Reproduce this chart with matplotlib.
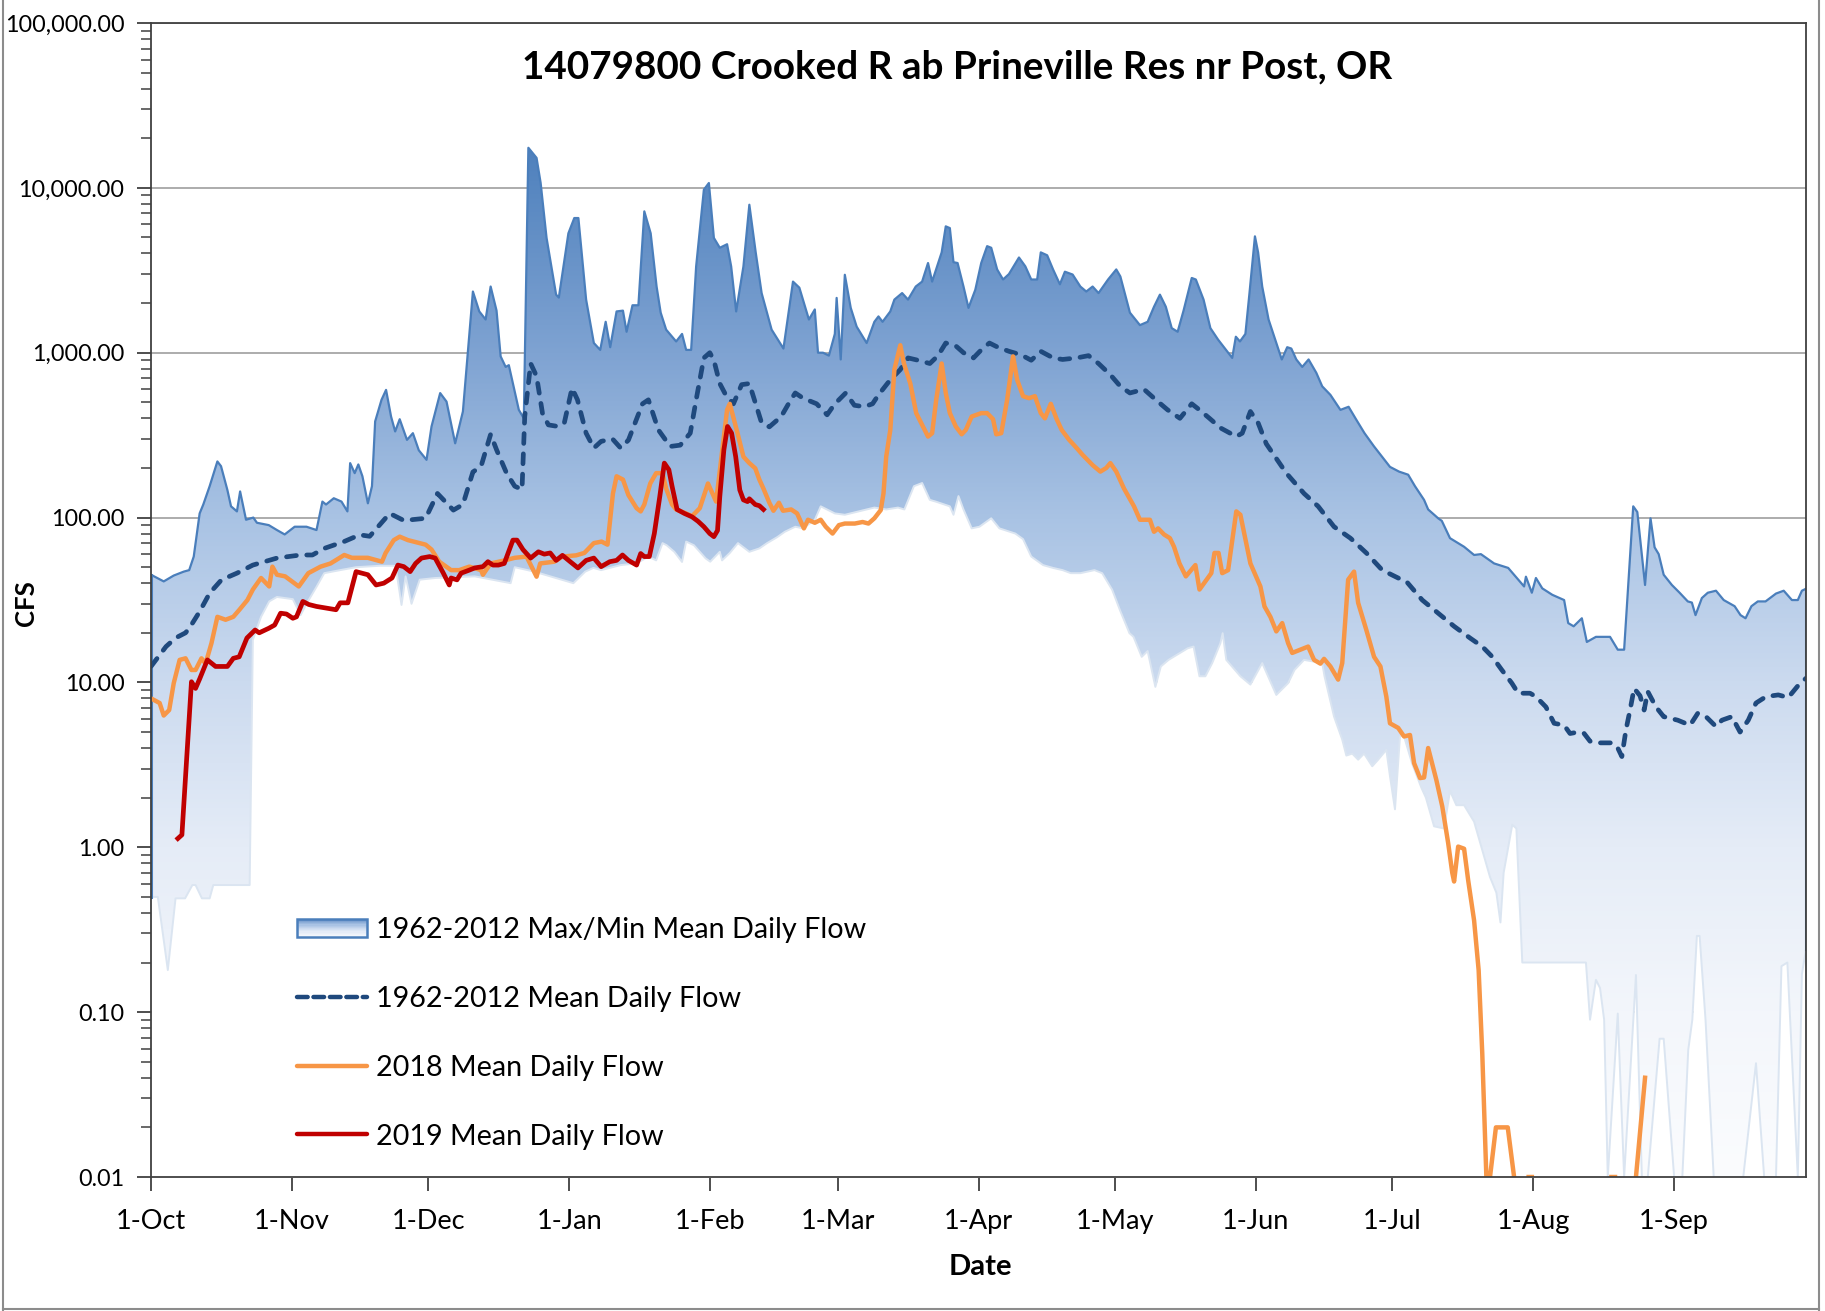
import datetime as dt
import numpy as np
import matplotlib
matplotlib.use("Agg")
import matplotlib.pyplot as plt
import matplotlib.dates as mdates
from matplotlib.colors import LinearSegmentedColormap
from matplotlib.patches import Rectangle
from matplotlib.lines import Line2D
from matplotlib.legend_handler import HandlerBase
from matplotlib.ticker import FuncFormatter, LogLocator, NullFormatter

plt.rcParams['font.family'] = ['Lato', 'DejaVu Sans']

# day offsets from 1-Oct, values in cfs
max_days = [0, 2.8, 5, 7.2, 8.4, 9.4, 10.7, 11.5, 12.9, 14.6, 15.4, 16.8, 17.6, 18.9, 19.6, 20.9, 22.5, 23.3,
            25.9, 27.7, 29.4, 31.6, 34.2, 36.4, 37.7, 38.5, 40.2, 41.9, 43.2, 43.8, 44.8, 45.6, 46.5, 47.7,
            48.6, 49.3, 50.7, 51.7, 52.8, 53.7, 54.7, 56.3, 57.6, 58.9, 60.6, 61.7, 63.6, 65, 66.9, 68.6,
            70.8, 72.2, 73.6, 74.7, 76, 76.9, 78, 78.7, 80.9, 82, 83, 84.8, 85.7, 87, 89.1, 89.7, 91.8, 93.1,
            94, 95.7, 97.4, 98.8, 100, 101, 102.4, 103.8, 104.6, 105.9, 107.2, 108.5, 109.9, 111.2, 112.1,
            113.3, 115.5, 116.8, 117.7, 118.8, 119.9, 121.6, 122.7, 123.8, 125.1, 126.7, 127.6, 128.7, 130.3,
            131.6, 133, 134.3, 136.5, 139.1, 141.2, 142.6, 144.7, 146, 146.7, 147.8, 149.1, 150.4, 150.8,
            151.7, 152.6, 153.9, 155.2, 157.4, 159.1, 160, 160.9, 162.6, 163.5, 165.2, 166.5, 168.2, 169.6,
            170.9, 171.8, 173.9, 174.8, 175.7, 176.5, 177.4, 178.7, 179.8, 181.3, 182.6, 183.9, 184.8, 186.1,
            187.4, 188.7, 190.9, 192.3, 193.6, 194.9, 195.7, 197.1, 198.4, 199.9, 201, 202.7, 204.4, 205.7,
            207.1, 208.4, 210.5, 212.3, 213.2, 215.3, 217.5, 219.2, 220.6, 221.9, 223.2, 224.5, 225.8, 227.1,
            228.9, 229.8, 231.5, 233, 234.7, 237.8, 238.6, 239.5, 240.7, 241.6, 242.8, 243.5, 244.4, 245.8,
            247.5, 248.7, 249.9, 250.8, 251.9, 253.2, 254.6, 256.3, 257.6, 259.4, 261.6, 263.4, 265.1, 266.9,
            269, 272.5, 274.5, 276.5, 278, 280, 280.9, 283.1, 283.9, 285.7, 288.8, 291, 292.5, 295.4, 298.5,
            300.7, 302, 302.4, 303.7, 304.6, 306, 308.2, 310.8, 311.7, 312.9, 314.7, 315.8, 317.8, 320.9,
            322.6, 324, 326, 326.9, 328.6, 329.8, 330.7, 331.6, 332.7, 334.5, 336.2, 338, 338.9, 339.7, 341.1,
            342.4, 344.2, 345.9, 348.3, 349.6, 350.7, 352, 353.4, 355.1, 357.4, 359.1, 360.9, 362.2, 363.1, 364]
max_cfs = [45, 41, 44.5, 47, 48, 58, 106, 120, 155, 219, 205, 147, 117, 109, 144, 97, 100, 93,
           90, 84, 79, 88, 88, 84, 125, 120, 131, 125, 109, 214, 186, 210, 178, 122,
           155, 383, 518, 595, 410, 333, 395, 296, 325, 256, 224, 357, 569, 505, 282, 440,
           2350, 1780, 1590, 2520, 1800, 950, 820, 840, 450, 400, 17500, 15200, 10700, 4970, 2250, 2160, 5300, 6560,
           6560, 2100, 1145, 1040, 1540, 1080, 1780, 1800, 1340, 1940, 1940, 7200, 5300, 2520, 1750,
           1380, 1170, 1300, 1040, 1040, 3340, 9750, 10700, 4970, 4330, 4550, 3340, 1780, 3340,
           7900, 4060, 2300, 1380, 1060, 2700, 2480, 1590, 1830, 1000, 1000, 960, 1300, 2150,
           910, 2970, 1870, 1440, 1145, 1540, 1660, 1540, 1780, 2100, 2300, 2100, 2520, 2700,
           3500, 2700, 4060, 5840, 5700, 3540, 3500, 2520, 1870, 2410, 3500, 4430, 4330, 3200,
           2780, 3000, 3780, 3340, 2780, 2780, 4060, 3900, 3200, 2600, 3100, 2980, 2520, 2350,
           2520, 2300, 2780, 3200, 2900, 1750, 1470, 1540, 1900, 2250, 1900, 1410, 1340, 1800,
           2840, 2780, 2100, 1410, 1200, 930, 1250, 1170, 1300, 2300, 5080, 4060, 2520, 1590,
           1145, 910, 1080, 1060, 910, 820, 910, 755, 625, 555, 450, 470, 392, 325,
           270, 203, 190, 182, 155, 128, 112, 99, 95.5, 75, 66.5, 59.3, 60, 52.7, 49.5,
           42, 38.2, 43.8, 35, 43, 37.2, 34, 31.6, 22.9, 21.9, 24.5, 17.6, 18.9, 18.9,
           15.8, 15.8, 117, 108, 39, 99, 66, 60, 45, 39, 35, 31, 30.5, 25.6, 32.5,
           35, 36, 31.6, 29, 25.6, 24.5, 29, 31, 31, 34.6, 36, 31.6, 31.6, 36, 37]

min_days = [0, 1.5, 3.7, 5.4, 7.5, 9.1, 9.8, 11.2, 12.9, 13.7, 21.7, 22.4, 24.2, 26, 27.7, 31.2, 32.9, 34.2,
            36.4, 38.1, 41.6, 45.1, 50.3, 53.8, 55.1, 56, 57.3, 59.1, 62.5, 71.2, 79.1, 80, 84.3, 92.9, 95.5,
            97.3, 99, 103.3, 106.8, 109.4, 111.1, 112.5, 113.4, 115.1, 116.8, 117.7, 119.4, 122, 123, 125.1,
            125.6, 127.3, 129.1, 131.6, 133.8, 135.5, 137.7, 139.4, 141.7, 143.4, 146, 147.3, 150.4, 152.6,
            155.6, 159.1, 161.7, 164.3, 165.7, 167.8, 169.6, 171.3, 172.6, 175.7, 176.5, 177.6, 178.7, 180.5,
            182.2, 184.8, 186.6, 190.1, 191.8, 193.6, 196.2, 198.4, 200.5, 202.3, 204.4, 207.5, 209.2, 211.4,
            213.1, 215.2, 216.1, 217.9, 219.2, 220.9, 222.1, 223.8, 228, 229.3, 230.6, 231.9, 233.4, 235.2,
            235.7, 236.5, 239.6, 241.8, 244.4, 247.5, 250.1, 251.5, 253.6, 257.6, 258.1, 260.2, 262, 262.9,
            264.2, 265.5, 266.8, 268.6, 269.9, 271.7, 272.5, 273.6, 274.7, 275.5, 277.4, 279.4, 280.4, 282.2,
            284.4, 285.7, 287.1, 288.8, 291, 292.8, 294.5, 295.9, 296.8, 297.5, 299.4, 300.3, 301.6, 315.6,
            316.5, 317.8, 318.7, 319.6, 320.4, 322.6, 324, 326.6, 327.9, 329.2, 331.8, 332.7, 335, 336.8,
            338.1, 339, 340, 340.6, 341.9, 343.7, 350.2, 353, 354.8, 357.4, 358.6, 359.9, 362.2, 363.1, 364]
min_cfs = [0.5, 0.5, 0.18, 0.49, 0.49, 0.59, 0.59, 0.49, 0.49, 0.59, 0.59, 18.1, 25, 31, 33, 32, 25.6, 30,
           38, 46, 48, 50, 51, 51, 29.5, 44, 30, 42, 43, 44, 40, 50, 47, 40, 47,
           49.5, 48, 51.5, 52.7, 58, 55, 70, 68, 62, 53.8, 71.5, 68, 56.5, 54, 62,
           55, 61, 70, 62, 65, 70, 76, 82, 88, 86, 97, 117, 106, 104,
           109, 115, 112, 115, 112, 155, 162, 128, 125, 117, 104, 135, 112, 86,
           88, 99, 86, 80, 74, 58, 51.5, 49.5, 48, 46, 46, 48, 46, 36.5,
           27.5, 19.9, 18.9, 14.3, 15.5, 9.4, 12.5, 13.7, 16.1, 16.5, 10.9, 10.9, 13.1, 17.3,
           19.9, 13.7, 10.9, 9.7, 13.1, 8.4, 9.9, 11.9, 13.7, 13.1, 10.9, 6.2, 4.5, 3.6,
           3.7, 3.4, 3.7, 3.1, 3.4, 3.9, 2.7, 1.7, 4.7, 4.8, 3.2, 2.3, 2.0, 1.34,
           1.3, 2.2, 1.8, 1.8, 1.43, 0.96, 0.66, 0.53, 0.35, 0.7, 1.37, 1.3, 0.2, 0.2,
           0.09, 0.157, 0.14, 0.09, 0.01, 0.098, 0.01, 0.168, 0.01, 0.01, 0.069, 0.069, 0.01, 0.01,
           0.059, 0.09, 0.29, 0.29, 0.09, 0.01, 0.01, 0.049, 0.01, 0.01, 0.19, 0.2, 0.01, 0.17, 0.24]

mean_days = [0, 3.3, 5.4, 7.6, 8.5, 10.7, 12.9, 15.5, 18.9, 22.4, 27.7, 32.9, 35.5, 38.1, 42.5, 45.9, 48.1,
             52.5, 55.6, 60.4, 63, 66.5, 68.6, 70.8, 72.6, 74.7, 76, 78.2, 80, 81.6, 82.2, 83.5, 84.8, 86.1,
             87.4, 89.5, 90.9, 92.6, 93.8, 95.7, 97.4, 99, 101.5, 103.3, 105, 108.1, 109.4, 111.6, 114.2,
             116.4, 118.6, 119.9, 121.6, 122.9, 123.8, 125.1, 126.4, 128.1, 129.9, 131.6, 134.3, 136, 138.6,
             140.4, 141.7, 143.4, 146.4, 148.7, 150.4, 151.3, 152.8, 154.7, 156.9, 158.7, 160, 162.6, 164.8,
             166.5, 168.7, 171.3, 173.1, 174.8, 177, 178.7, 180.9, 182.6, 184.4, 186.1, 188.7, 191.4, 193.6,
             195.7, 198.4, 200.5, 203.6, 206.2, 208.4, 211, 213.2, 215.3, 218.4, 221, 223.6, 226.3, 228.9,
             230.6, 232.8, 235.2, 238.7, 240, 241.8, 243.5, 245.3, 246.6, 249.7, 253.6, 256.7, 260.2, 263.8,
             267.3, 270.8, 274.3, 276.1, 279.6, 283.1, 286.6, 290.1, 292.8, 295, 297.1, 299.3, 300.7, 303.3,
             304.6, 306.8, 308.6, 310.8, 312.1, 313.9, 315.2, 316.5, 318.3, 321.4, 322.6, 323.5, 324.4, 325.3,
             326.2, 327.5, 328.4, 329.2, 331, 332.7, 335.8, 338.5, 340.2, 342, 344.2, 345.5, 347.7, 349.5,
             351.3, 353, 355.2, 357.9, 360.1, 362.3, 364]
mean_cfs = [12.5, 16.5, 18.6, 20, 21.5, 26.9, 34.8, 41.9, 46, 51.5, 56.8, 59.3, 59.3, 65, 71.6, 78.6, 77,
            106, 96, 99, 140, 111, 120, 189, 205, 320, 258, 186, 155, 148, 410, 860, 720, 430,
            365, 357, 375, 610, 518, 325, 264, 290, 300, 264, 295, 490, 518, 340, 270,
            275, 325, 518, 930, 1000, 900, 650, 555, 490, 640, 650, 375, 355, 410,
            500, 570, 530, 490, 420, 490, 518, 570, 480, 470, 490, 555, 685, 790,
            930, 900, 860, 960, 1145, 1100, 1000, 930, 1040, 1145, 1085, 1020, 970, 900,
            1020, 930, 910, 930, 960, 860, 735, 625, 570, 600, 518, 450, 400, 490,
            450, 400, 350, 310, 325, 440, 375, 280, 248, 186, 140, 117, 88, 75,
            61, 48, 43, 41, 31.6, 26.3, 21.9, 18.6, 16.5, 14.3, 11.9, 9.9, 8.6, 8.6,
            8.2, 7.1, 5.65, 5.5, 4.9, 5.0, 4.9, 4.4, 4.3, 4.3, 4.0, 3.55, 5.15, 6.8,
            9.2, 8.3, 6.8, 8.8, 7.1, 6.2, 5.9, 5.5, 6.5, 6.2, 5.4, 5.9, 6.2, 5.0,
            5.9, 7.5, 8.2, 8.4, 8.1, 9.6, 10.6]

# 2018: nan marks days plotted at zero (not shown on the log axis)
y2018_days = [0, 1.9, 2.8, 4, 5, 6.3, 7.6, 8.9, 9.8, 11.1, 12, 13.3, 14.6, 16.4, 18.1, 19.4, 21.2, 22.4, 24.2,
              26, 26.7, 27.7, 29.5, 32.5, 34.6, 37.3, 39.5, 42.5, 44.2, 47.7, 50.8, 51.6, 53.4, 54.7, 56.5,
              59.1, 60.4, 61.7, 63.4, 66, 67.8, 70, 72.6, 73, 74.7, 77.8, 80, 82.6, 84.8, 85.6, 88.7, 90.5,
              93.5, 95.3, 97.4, 99.1, 100.4, 101.6, 102.4, 103.8, 105, 106.8, 107.7, 108.5, 109.8, 111.1,
              112.5, 113.3, 114.6, 115.5, 117.3, 119, 120.7, 122.5, 124.3, 125.6, 126.7, 127.3, 129, 130.3,
              131.6, 132.9, 133.8, 134.7, 136, 136.9, 138.1, 139, 140.8, 142.1, 143.6, 144.5, 146, 147.3,
              148.4, 149.9, 151.3, 152.6, 154.8, 156.5, 157.8, 159.1, 160.5, 161.1, 161.7, 162.6, 163.5,
              164.8, 165.6, 167, 168.3, 169.6, 170.9, 171.8, 172.7, 173.9, 174.8, 175.7, 177, 178.3, 179.2,
              180.5, 182.6, 183.9, 185.2, 185.9, 187, 188.3, 189.6, 190.5, 191.8, 193.1, 194.4, 195.7, 196.6,
              197.9, 199.2, 200.3, 201.9, 203.6, 204.9, 207.1, 208.8, 210.1, 211, 212.3, 214, 216.2, 217.5,
              219.7, 220.6, 221.5, 222.8, 224.1, 225, 226.2, 227.6, 229.7, 230.6, 231.9, 233.2, 233.9, 234.8,
              235.6, 236.9, 238.7, 239.6, 241.8, 244, 244.9, 246.2, 247.5, 248.8, 250.1, 251, 252.8, 254.5,
              255.8, 257.2, 258, 259.4, 261.1, 262, 263.3, 264.6, 265.5, 267.3, 269, 270.4, 271.7, 272.5,
              274.3, 275.6, 276.9, 277.8, 279.1, 280, 280.9, 282.7, 284, 285.3, 286.2, 286.6, 287.5, 288.8,
              289.7, 291, 292, 292.8, 293.7, 294.5, 295.8, 298.4, 299.8, 300.5, 303, 303.7, 304.4, 321.2,
              322, 322.7, 326.6, 328.6]
y2018_cfs = [8.0, 7.5, 6.3, 6.8, 9.9, 13.7, 14, 11.9, 11.9, 14, 13, 17.3, 25, 24, 25, 27.5, 31.6, 36.6, 43,
             38.2, 50.4, 45, 44, 38.2, 46, 50.4, 52.7, 59.3, 57, 57, 54, 61, 73, 76.6, 73,
             70, 68.5, 64, 54, 48, 48, 50.4, 48, 45, 52.7, 55, 57, 58, 43.8, 52.7, 54, 58,
             59, 61, 70, 71.5, 68.5, 140, 178, 170, 137, 114, 109, 120, 161, 186,
             186, 150, 120, 112, 107, 102, 114, 161, 125, 250, 450, 490, 325, 234,
             214, 199, 170, 150, 123, 110, 123, 110, 112, 106, 86, 97, 93, 97,
             88, 80, 90, 92, 92, 94, 92, 99, 111, 140, 234, 340, 790,
             1110, 860, 650, 430, 365, 310, 325, 518, 860, 570, 430, 357, 320, 340,
             410, 430, 430, 395, 320, 325, 518, 950, 685, 545, 530, 545, 430, 400,
             490, 395, 340, 297, 264, 240, 208, 190, 200, 214, 190, 150, 117, 97,
             97, 82, 86, 79, 75, 66.5, 52.7, 44, 51.5, 36.6, 41, 46, 61, 61,
             46, 48, 109, 104, 52.7, 38.2, 28.9, 25, 20.4, 22.9, 17.3, 15.1, 15.8, 16.5,
             13.7, 13, 13.9, 12.5, 10.4, 13.1, 42, 47, 30.4, 20.8, 14.3, 12.5, 8.2, 5.65,
             5.3, 4.7, 4.8, 3.24, 2.63, 2.65, 4.0, 2.56, 1.77, 1.06, 0.7, 0.62, 1.01, 0.98,
             0.63, 0.36, 0.18, 0.056, 0.01, 0.01, 0.02, 0.02, 0.01, np.nan, 0.01, 0.01, np.nan, 0.01,
             0.01, np.nan, 0.01, 0.04]

y2019_days = [5.9, 6.8, 8.9, 9.8, 10.7, 12.4, 14.2, 16.8, 18.1, 19.4, 21.1, 22.9, 23.8, 25.9, 27.2, 28.5, 29.8,
              31.2, 32, 33.4, 34.7, 36.4, 40.7, 41.6, 43.3, 45.1, 47.7, 49.5, 51.2, 53, 54.3, 55.6, 57, 58.2,
              59.5, 61.3, 62.5, 64.3, 65.6, 66, 67.3, 68.2, 70, 71.2, 73, 74.1, 75.2, 76.4, 77.7, 79.6, 80.5,
              81.8, 83.5, 85.2, 86.5, 87.8, 89.1, 90.5, 92.2, 93.9, 95.7, 97.4, 99, 100.9, 102.4, 103.7, 105,
              106.8, 107.7, 108.5, 109.6, 110.7, 111.9, 112.9, 113.9, 114.6, 115.7, 117.3, 119, 120.3, 121.6,
              122.9, 123.8, 124.6, 125.1, 126, 126.8, 127.7, 128.6, 129.5, 130.3, 131.2, 131.6, 132.9, 133.8, 134.7]
y2019_cfs = [1.13, 1.19, 10.1, 9.2, 10.5, 13.7, 12.5, 12.5, 14, 14.3, 18.6, 20.8, 20, 21.3, 22.3, 26.3, 26,
             24.5, 25, 31, 29.7, 28.9, 27.6, 30.4, 30.4, 47, 45, 39, 40, 43, 51.5, 50.4, 47, 52.7,
             56.8, 58, 56.8, 46, 39, 43, 41.9, 46, 48, 49.5, 50.4, 54, 51.5, 51.5, 52.7, 73, 73,
             64, 56.8, 62, 60, 61, 55, 59, 54, 49.5, 55, 56.8, 50.4, 54, 55, 59.3, 55,
             51.5, 60.5, 58, 58, 80, 134, 214, 195, 155, 112, 106, 101, 95, 88,
             80, 76.6, 83.5, 134, 258, 357, 325, 234, 147, 128, 125, 130, 120, 118, 112]

title = "14079800 Crooked R ab Prineville Res nr Post, OR"
labels = ["1962-2012 Max/Min Mean Daily Flow", "1962-2012 Mean Daily Flow",
          "2018 Mean Daily Flow", "2019 Mean Daily Flow"]

start = mdates.date2num(dt.datetime(2018, 10, 1))
xd = lambda d: start + np.asarray(d, dtype=float)

grad = LinearSegmentedColormap.from_list('flow', [
    (0.0, '#fbfcfe'), (0.143, '#f3f6fb'), (0.286, '#e5ecf7'), (0.43, '#cbdaef'),
    (0.571, '#a9c3e4'), (0.714, '#7fa3d2'), (0.89, '#4f81bd'), (1.0, '#4a7bb8')])

fig = plt.figure(figsize=(18.25, 13.11), dpi=100)
ax = fig.add_axes([151 / 1825, 1 - 1177 / 1311, 1655 / 1825, 1154 / 1311])
ax.set_yscale('log')
ax.set_ylim(0.01, 100000)
ax.set_xlim(xd(0), xd(364))

ax.grid(axis='y', which='major', color='#a6a6a6', lw=1.3, zorder=0)
ax.set_axisbelow(True)

# common day grid for the envelope so min and max can be filled together
env_x = np.union1d(max_days, min_days)
env_max = np.exp(np.interp(env_x, max_days, np.log(max_cfs)))
env_min = np.exp(np.interp(env_x, min_days, np.log(min_cfs)))

ax.fill_between(xd(env_x), 1e-4, env_min, color='white', lw=0, zorder=1)
band = ax.fill_between(xd(env_x), env_min, env_max, facecolor='none', lw=0, zorder=2)
img = ax.imshow(np.linspace(0, 1, 512).reshape(-1, 1), cmap=grad, origin='lower', aspect='auto',
                extent=[0, 1, 0, 1], transform=ax.transAxes, zorder=2, interpolation='bilinear')
img.set_clip_path(band.get_paths()[0], transform=ax.transData)

ax.plot(xd(min_days), min_cfs, color='#dbe5f1', lw=1.4, zorder=3)
ax.plot(xd(max_days), max_cfs, color='#4a7ebb', lw=1.6, zorder=4)
ax.plot(xd([0, 0]), [min_cfs[0], max_cfs[0]], color='#4a7ebb', lw=2.2, zorder=4)
ax.plot(xd([364, 364]), [min_cfs[-1], max_cfs[-1]], color='#4a7ebb', lw=2.2, zorder=4)

ax.plot(xd(mean_days), mean_cfs, color='#1f497d', lw=3.4, dashes=(2.1, 2.2),
        dash_capstyle='round', zorder=5)
ax.plot(xd(y2018_days), y2018_cfs, color='#f79646', lw=3.2, zorder=6)
ax.plot(xd(y2019_days), y2019_cfs, color='#c00000', lw=3.4, zorder=7)

# axes styling
for s in ax.spines.values():
    s.set_color('#404040')
    s.set_linewidth(1.3)
    s.set_zorder(8)
ax.xaxis.set_major_locator(mdates.MonthLocator(bymonthday=1))
ax.xaxis.set_major_formatter(mdates.DateFormatter('%-d-%b'))
ax.yaxis.set_major_locator(LogLocator(base=10, numticks=10))
ax.yaxis.set_minor_locator(LogLocator(base=10, subs=np.arange(2, 10), numticks=100))
ax.yaxis.set_minor_formatter(NullFormatter())
ax.yaxis.set_major_formatter(FuncFormatter(lambda v, p: f'{v:,.2f}'))
ax.tick_params(axis='x', which='major', length=10, width=1.3, color='#404040', labelsize=19.5, pad=13)
ax.tick_params(axis='y', which='major', length=10, width=1.3, color='#404040', labelsize=16.8, pad=9)
ax.tick_params(axis='y', which='minor', length=7, width=1.1, color='#404040')
ax.tick_params(axis='x', which='minor', length=0)

fig.text(957 / 1825, 1 - 67 / 1311, title, ha='center', va='center', fontsize=27.8, fontweight='bold')
fig.text(980 / 1825, 1 - 1267 / 1311, 'Date', ha='center', va='center', fontsize=21, fontweight='bold')
fig.text(26 / 1825, 1 - 603 / 1311, 'CFS', ha='center', va='center', fontsize=18.5, fontweight='bold',
         rotation=90)


class GradientHandler(HandlerBase):
    def create_artists(self, legend, orig_handle, xdescent, ydescent, width, height, fontsize, trans):
        arts = []
        n = 16
        h = height * 0.92
        y0 = -ydescent + (height - h) / 2
        for i in range(n):
            c = grad(0.08 + 0.75 * (i + 0.5) / n)
            arts.append(Rectangle((-xdescent, y0 + h * i / n), width, h / n, facecolor=c,
                                  edgecolor='none', transform=trans))
        arts.append(Rectangle((-xdescent, y0), width, h, facecolor='none', edgecolor='#4a7ebb',
                              lw=1.8, transform=trans))
        return arts


h_band = Rectangle((0, 0), 1, 1)
h_mean = Line2D([], [], color='#1f497d', lw=3.2, dashes=(2.4, 1.3), dash_capstyle='round')
h_18 = Line2D([], [], color='#f79646', lw=3.2, solid_capstyle='round')
h_19 = Line2D([], [], color='#c00000', lw=3.2, solid_capstyle='round')
leg = ax.legend([h_band, h_mean, h_18, h_19], labels, loc='upper left',
                bbox_to_anchor=((297 - 151) / 1655, (1177 - 917) / 1154), frameon=False,
                fontsize=20.7, handlelength=2.45, handletextpad=0.3, labelspacing=1.49,
                borderpad=0, borderaxespad=0, handler_map={h_band: GradientHandler()})
leg.set_zorder(9)

# outer chart border
for xs, ys in [([0.0015, 0.0015], [0.001, 1]), ([0.9965, 0.9965], [0.001, 1]),
               ([0.0015, 0.9965], [0.0015, 0.0015])]:
    fig.add_artist(Line2D(xs, ys, color='#8c8c8c', lw=1.5, transform=fig.transFigure))

fig.savefig('out.png', dpi=100)
